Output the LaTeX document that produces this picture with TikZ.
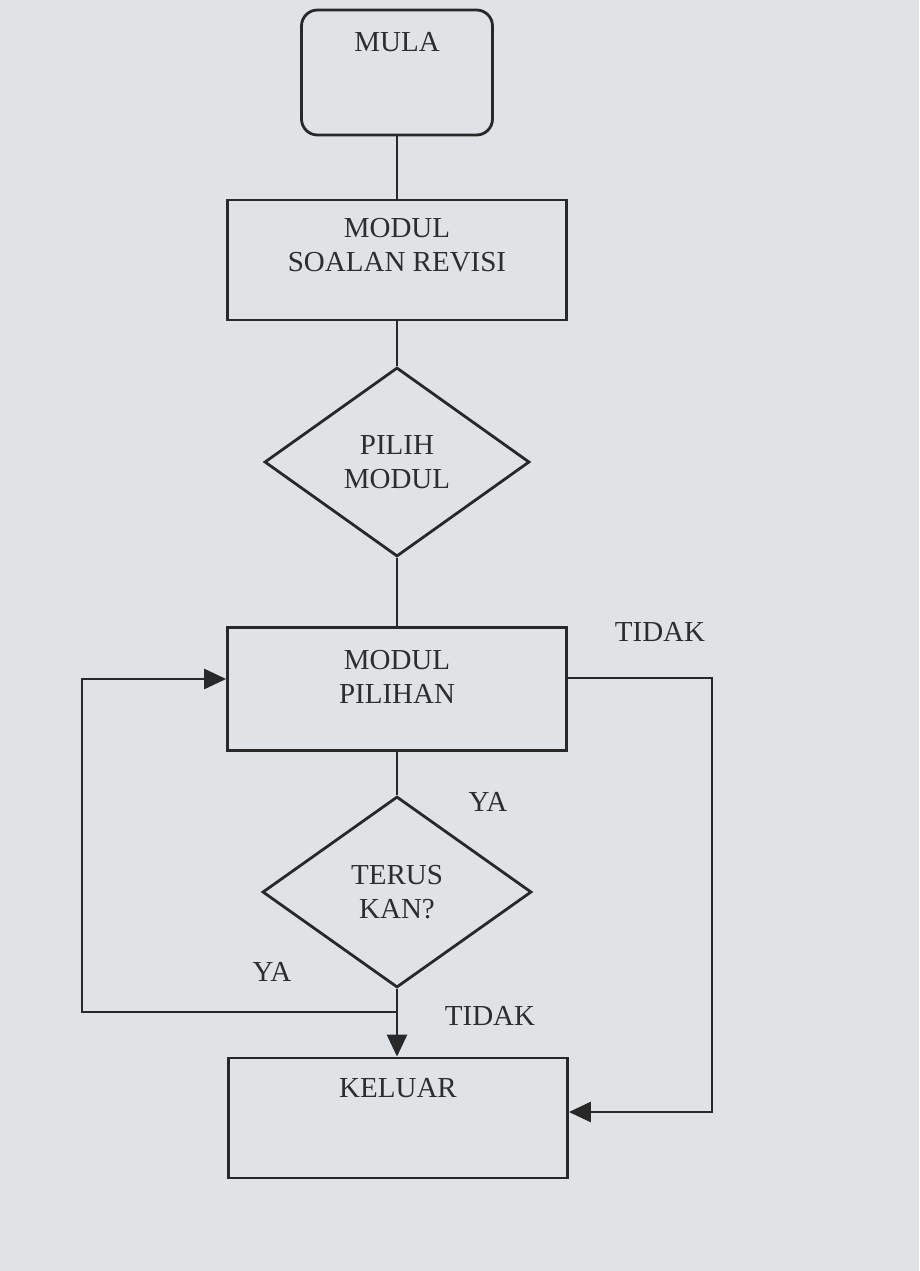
\documentclass[tikz,border=0pt]{standalone}
\usepackage{fontspec}
\setmainfont{Liberation Serif}
\usetikzlibrary{shapes.geometric,arrows.meta,calc}
\definecolor{paper}{RGB}{223,227,229}
\definecolor{ink}{RGB}{40,40,40}
\definecolor{txtc}{RGB}{45,45,45}
\begin{document}
\begin{tikzpicture}[x=1pt,y=-1pt,
  every node/.style={font=\fontsize{29}{34}\selectfont, text=txtc},
  conn/.style={draw=ink, line width=2.8pt},
  arr/.style={conn, -{Triangle[length=22pt,width=20pt]}},
  procbox/.style={draw=ink, line width=2.8pt, rectangle, inner sep=0pt},
  startbox/.style={procbox, rounded corners=16pt},
  decis/.style={draw=ink, line width=2.8pt, diamond, inner sep=0pt, align=center},
  txt/.style={align=center, inner sep=0pt},
  lbl/.style={inner sep=0pt}
]
\fill[paper] (0,0) rectangle (919,1271);
\useasboundingbox (0,0) rectangle (919,1271);

% boxes
\node[startbox, minimum width=191pt, minimum height=125pt] (mula) at (397,72.5) {};
\node[txt] (mulat) at (397,42) {MULA};

\node[procbox, minimum width=339pt, minimum height=120pt] (soalan) at (397,260) {};
\node[txt] (soalant) at (397,245) {MODUL\\SOALAN REVISI};

\node[decis, minimum width=265pt, minimum height=189pt] (pilih) at (397,462) {PILIH\\MODUL};

\node[procbox, minimum width=339pt, minimum height=123pt] (pilihan) at (397,689) {};
\node[txt] (pilihant) at (397,677) {MODUL\\PILIHAN};

\node[decis, minimum width=269pt, minimum height=191pt] (terus) at (397,892) {TERUS\\KAN?};

\node[procbox, minimum width=339pt, minimum height=120pt] (keluar) at (398,1118) {};
\node[txt] (keluart) at (398,1088) {KELUAR};

% labels
\node[lbl] (tidak1) at (660,632) {TIDAK};
\node[lbl] (ya1) at (488,802) {YA};
\node[lbl] (ya2) at (272,972) {YA};
\node[lbl] (tidak2) at (490,1016) {TIDAK};

% main flow
\draw[conn] (mula.south) -- (mula.south |- soalan.north);
\draw[conn] (soalan.south) -- (soalan.south |- pilih.north);
\draw[conn] (pilih.south) -- (pilih.south |- pilihan.north);
\draw[conn] (pilihan.south) -- (pilihan.south |- terus.north);
\draw[arr] (terus.south) -- (terus.south |- keluar.north);

% YA loop back
\coordinate (jl) at (397,1012);
\coordinate (lc1) at (82,1012);
\coordinate (lc2) at (82,679);
\draw[arr] (jl) -- (lc1) -- (lc2) -- (lc2 -| pilihan.west);

% TIDAK path to KELUAR
\coordinate (rc1) at (712,678);
\coordinate (rc2) at (712,1112);
\draw[arr] (rc1 -| pilihan.east) -- (rc1) -- (rc2) -- (rc2 -| keluar.east);
\end{tikzpicture}
\end{document}
